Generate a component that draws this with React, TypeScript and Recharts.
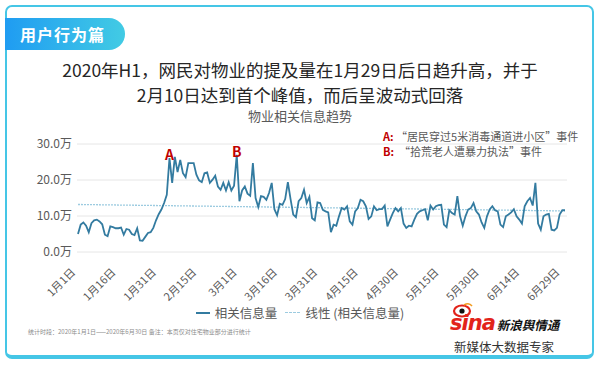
import React from 'react';
import {
  LineChart,
  Line,
  XAxis,
  YAxis,
  CartesianGrid,
  ReferenceLine,
  ReferenceDot,
} from 'recharts';

// 2020 is a leap year
const monthDays = [31, 29, 31, 30, 31, 30];

// 相关信息量 (万), one value per day
const jan = [5.0, 7.6, 8.2, 7.3, 5.5, 8.0, 8.8, 9.0, 8.5, 7.7, 4.8, 4.4, 7.1, 6.9, 6.6, 6.6, 6.8, 4.8, 6.4, 6.2, 5.0, 4.7, 6.6, 3.2, 3.1, 4.2, 5.3, 5.5, 6.7, 8.8, 10.5];
const feb = [11.8, 13.6, 15.9, 26.1, 19.2, 26.4, 22.2, 25.6, 21.9, 20.8, 24.7, 24.7, 24.7, 21.5, 19.9, 19.4, 21.9, 22.1, 19.2, 20.1, 21.2, 18.2, 17.3, 19.2, 17.1, 19.4, 17.1, 18.4, 27.0];
const mar = [14.1, 17.1, 18.2, 16.2, 15.6, 24.7, 15.0, 12.5, 15.5, 15.3, 14.5, 16.4, 19.2, 11.9, 10.2, 13.4, 13.1, 14.7, 19.4, 14.7, 10.4, 9.7, 14.1, 15.0, 17.3, 13.6, 15.3, 9.4, 8.8, 13.8, 13.6];
const apr = [11.7, 11.3, 11.0, 5.5, 7.6, 7.3, 9.9, 12.2, 11.8, 12.7, 8.5, 7.6, 11.3, 12.2, 14.5, 14.1, 12.7, 9.2, 9.9, 12.7, 11.6, 11.9, 11.9, 12.9, 7.1, 9.0, 10.8, 12.2, 11.3, 12.2];
const may = [7.9, 6.7, 7.3, 7.1, 9.0, 10.6, 11.3, 11.6, 11.9, 8.8, 12.9, 11.8, 12.7, 13.0, 13.1, 7.6, 6.9, 11.6, 10.8, 10.4, 15.5, 9.9, 7.3, 9.9, 11.8, 12.2, 13.6, 11.3, 10.4, 8.2, 6.7];
const jun = [9.9, 11.8, 12.7, 11.6, 11.3, 7.6, 6.9, 9.9, 10.4, 11.0, 11.9, 9.9, 9.0, 7.9, 12.7, 14.1, 15.0, 12.9, 19.2, 7.9, 6.2, 9.9, 10.4, 10.6, 6.2, 6.0, 6.7, 10.4, 11.6, 11.6];

const yTicks = [0, 5, 10, 15, 20, 25, 30];
// 线性 (相关信息量): value at the first and last day
const trendEnds = [13.2, 11.4];
// event markers: day index of the peak
const events = [
  { label: 'A', day: 34, text: '“居民穿过5米消毒通道进小区”事件' },
  { label: 'B', day: 59, text: ' “拾荒老人遭暴力执法”事件' },
];

const values = [...jan, ...feb, ...mar, ...apr, ...may, ...jun];
const categories: string[] = [];
monthDays.forEach((n, m) => {
  for (let d = 1; d <= n; d++) categories.push(`${m + 1}月${d}日`);
});
const data = categories.map((name, i) => ({ name, v: values[i] }));

const FONT = '"Noto Sans CJK SC", "Noto Sans", sans-serif';
const GRAY = '#595959';
const LINE = '#337ba0';
const TREND = '#9ccbe0';

const XTick = (props: any) => {
  const { x, y, payload } = props;
  return (
    <g transform={`translate(${x - 2},${y + 13})`}>
      <text transform="rotate(-45)" textAnchor="end" fontSize={11} fill={GRAY} fontFamily={FONT}>
        {payload.value}
      </text>
    </g>
  );
};

const App = () => {
  const last = categories.length - 1;
  return (
    <div style={{ position: 'absolute', left: 0, top: 0, width: 600, height: 365, background: '#fff', overflow: 'hidden', fontFamily: FONT }}>
      <div style={{ position: 'absolute', left: 5, top: 5, width: 585, height: 348, border: '2px solid #45c6e6', borderBottomWidth: 4, borderRadius: 7 }} />
      <div style={{ position: 'absolute', left: 5, top: 18, width: 120, height: 32, borderRadius: '0 16px 16px 0', background: 'linear-gradient(90deg, #1f9cf2, #42cbe4)', color: '#fff', fontSize: 16, fontWeight: 'bold', lineHeight: '32px', paddingLeft: 15, boxSizing: 'border-box', letterSpacing: 1 }}>
        用户行为篇
      </div>
      <div style={{ position: 'absolute', left: 0, top: 57, width: 600, textAlign: 'center', fontSize: 17.5, lineHeight: '25px', color: '#262626' }}>
        <div>2020年H1，网民对物业的提及量在1月29日后日趋升高，并于</div>
        <div>2月10日达到首个峰值，而后呈波动式回落</div>
      </div>
      <div style={{ position: 'absolute', left: 0, top: 107, width: 600, textAlign: 'center', fontSize: 13, lineHeight: '18px', color: GRAY }}>
        物业相关信息趋势
      </div>

      <div style={{ position: 'absolute', left: 0, top: 0 }}>
        <LineChart width={600} height={365} data={data} margin={{ top: 144, right: 33, bottom: 63, left: 37 }}>
          <CartesianGrid vertical={false} stroke="#e6e6e6" />
          <XAxis
            dataKey="name"
            interval={14}
            axisLine={false}
            tickLine={false}
            height={50}
            padding={{ left: 1, right: 2 }}
            tick={<XTick />}
          />
          <YAxis
            domain={[0, 30]}
            ticks={yTicks}
            width={40}
            axisLine={false}
            tickLine={false}
            tickSize={0}
            tickMargin={5}
            tickFormatter={(v: number) => `${v.toFixed(1)}万`}
            tick={{ fontSize: 12, fill: GRAY, fontFamily: FONT }}
          />
          <ReferenceLine
            segment={[
              { x: categories[0], y: trendEnds[0] },
              { x: categories[last], y: trendEnds[1] },
            ]}
            stroke={TREND}
            strokeWidth={1.3}
            strokeDasharray="2 1"
          />
          <Line
            type="linear"
            dataKey="v"
            stroke={LINE}
            strokeWidth={1.8}
            dot={false}
            isAnimationActive={false}
          />
          {events.map((e) => (
            <ReferenceDot
              key={e.label}
              x={categories[e.day]}
              y={values[e.day]}
              r={0}
              stroke="none"
              fill="none"
              label={{ value: e.label, position: 'top', offset: -2, fill: '#c00000', fontSize: 14, fontWeight: 'bold', fontFamily: FONT }}
            />
          ))}
        </LineChart>
      </div>

      <div style={{ position: 'absolute', left: 383, top: 129, fontSize: 11, lineHeight: '15px', color: GRAY, whiteSpace: 'pre' }}>
        {events.map((e) => (
          <div key={e.label}>
            <span style={{ color: '#c00000', fontWeight: 'bold' }}>{e.label}:</span> {e.text}
          </div>
        ))}
      </div>

      <div style={{ position: 'absolute', left: 0, top: 304, width: 600, display: 'flex', justifyContent: 'center', alignItems: 'center', fontSize: 12.5, color: GRAY, lineHeight: '18px' }}>
        <span style={{ display: 'inline-block', width: 14, height: 2, background: LINE, marginRight: 5 }} />
        <span>相关信息量</span>
        <span style={{ display: 'inline-block', width: 15, height: 1, borderTop: `1px dashed ${TREND}`, marginLeft: 8, marginRight: 5 }} />
        <span>线性 (相关信息量)</span>
      </div>

      <div style={{ position: 'absolute', left: 28, top: 327, fontSize: 6, color: '#8c8c8c', whiteSpace: 'nowrap' }}>
        统计时段：2020年1月1日——2020年6月30日  备注：本页仅对住宅物业部分进行统计
      </div>

      <svg style={{ position: 'absolute', left: 452, top: 302 }} width={22} height={16}>
        <ellipse cx={10} cy={9} rx={8} ry={5.5} fill="none" stroke="#e2231a" strokeWidth={2.2} />
        <circle cx={10} cy={9} r={2.6} fill="#111" />
        <path d="M12 3 Q17 0 20 4" fill="none" stroke="#f29c1f" strokeWidth={1.5} />
      </svg>
      <div style={{ position: 'absolute', left: 450, top: 311, whiteSpace: 'nowrap', display: 'flex', alignItems: 'baseline' }}>
        <span style={{ fontSize: 21, fontWeight: 900, fontStyle: 'italic', color: '#e2231a', fontFamily: '"DejaVu Sans", sans-serif', letterSpacing: -1 }}>sina</span>
        <span style={{ fontSize: 12.5, fontWeight: 'bold', fontStyle: 'italic', color: '#111', marginLeft: 2 }}>新浪舆情通</span>
      </div>
      <div style={{ position: 'absolute', left: 454, top: 338, fontSize: 12.5, color: '#333', lineHeight: '18px', whiteSpace: 'nowrap' }}>
        新媒体大数据专家
      </div>
    </div>
  );
};

export default App;
